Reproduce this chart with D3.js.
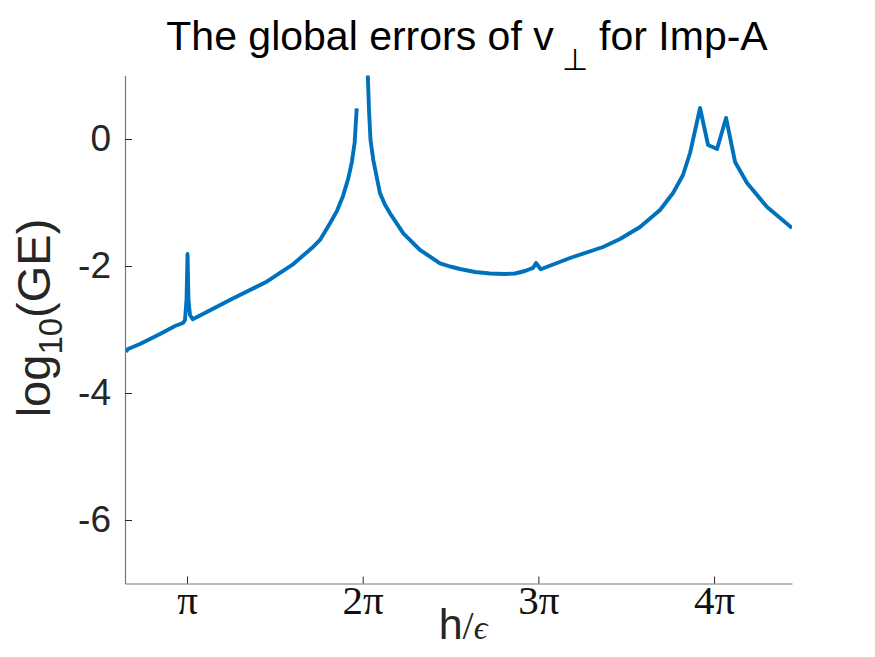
<!DOCTYPE html>
<html><head><meta charset="utf-8">
<script src="https://cdn.jsdelivr.net/npm/d3@7"></script>
<style>body{margin:0;background:#fff}</style>
</head><body><svg id="c" width="875" height="657"></svg>
<script>
// h/epsilon values (null log value marks a gap in the line)
const hOverEps = [2.051,2.086,2.301,2.659,2.927,3.070,3.106,3.133,3.151,3.168,3.195,3.244,3.970,4.567,5.043,5.400,5.520,5.699,5.819,5.930,6.026,6.090,6.140,6.176,
  6.27,
  6.373,6.396,6.423,6.473,6.593,6.680,6.772,7.010,7.308,7.666,7.845,8.024,8.292,8.560,8.828,9.007,9.186,9.329,9.383,9.467,9.991,10.581,10.885,11.243,11.600,11.833,12.011,12.137,12.316,12.459,12.620,12.781,12.942,13.156,13.514,13.961];
const logGE = [-3.354,-3.307,-3.228,-3.071,-2.945,-2.898,-2.850,-2.535,-1.811,-2.535,-2.772,-2.839,-2.509,-2.247,-1.969,-1.696,-1.590,-1.328,-1.140,-0.900,-0.620,-0.360,-0.050,0.483,
  null,
  1.05,0.457,-0.016,-0.331,-0.855,-1.030,-1.170,-1.485,-1.748,-1.957,-2.008,-2.047,-2.094,-2.118,-2.126,-2.118,-2.079,-2.030,-1.953,-2.052,-1.874,-1.701,-1.575,-1.386,-1.118,-0.850,-0.567,-0.220,0.488,-0.094,-0.157,0.331,-0.362,-0.693,-1.071,-1.402];
const xTickValues = [Math.PI, 2*Math.PI, 3*Math.PI, 4*Math.PI];
const xTickLabels = ["π","2π","3π","4π"];
const yTickValues = [0,-2,-4,-6];
const yTickLabels = ["0","-2","-4","-6"];
const xDomain = [2.033, 13.96];
const yDomain = [-7, 1];

const svg = d3.select("#c");
const L = 125, R = 792, T = 75.5, B = 583.5;
const x = d3.scaleLinear().domain(xDomain).range([L, R]);
const y = d3.scaleLinear().domain(yDomain).range([B, T]);
const sans = "Liberation Sans, Arial, Helvetica, sans-serif";
const serif = "Liberation Serif, DejaVu Serif, serif";

svg.append("defs").append("clipPath").attr("id","clip")
  .append("rect").attr("x",L).attr("y",T).attr("width",R-L).attr("height",B-T);

const data = hOverEps.map((v,i)=>({x:v,y:logGE[i]}));
const line = d3.line().defined(d=>d.y!==null).x(d=>x(d.x)).y(d=>y(d.y));
svg.append("path").datum(data).attr("clip-path","url(#clip)")
  .attr("d",line).attr("fill","none").attr("stroke","#0072BD")
  .attr("stroke-width",3.9).attr("stroke-linejoin","round").attr("stroke-linecap","butt");

// x axis
const gx = svg.append("g").attr("transform",`translate(0,${B})`)
  .call(d3.axisBottom(x).tickValues(xTickValues).tickFormat((d,i)=>xTickLabels[i]).tickSize(-7).tickSizeOuter(0).tickPadding(1));
gx.select(".domain").attr("stroke","#777").attr("stroke-width",1.2);
gx.selectAll(".tick line").attr("stroke","#262626");
gx.selectAll(".tick text").attr("font-family",serif).attr("font-size",41).attr("fill","#111");

// y axis
const gy = svg.append("g").attr("transform",`translate(${L},0)`)
  .call(d3.axisLeft(y).tickValues(yTickValues).tickFormat((d,i)=>yTickLabels[i]).tickSize(-7).tickSizeOuter(0).tickPadding(14));
gy.select(".domain").attr("stroke","#777").attr("stroke-width",1.2);
gy.selectAll(".tick line").attr("stroke","#262626");
gy.selectAll(".tick text").attr("font-family",sans).attr("font-size",37).attr("fill","#262626");

// title
const title = svg.append("text").attr("x",467).attr("y",50).attr("text-anchor","middle")
  .attr("font-family",sans).attr("font-size",41).attr("fill","#000");
title.append("tspan").text("The global errors of v");
title.append("tspan").attr("dy",20).attr("dx",8).attr("font-size",30).text("⊥");
title.append("tspan").attr("dy",-20).text(" for Imp-A");

// y label
const yl = svg.append("text").attr("transform","translate(50,318) rotate(-90)").attr("text-anchor","middle")
  .attr("font-family",sans).attr("font-size",47).attr("fill","#262626");
yl.append("tspan").text("log");
yl.append("tspan").attr("dy",12).attr("font-size",33).text("10");
yl.append("tspan").attr("dy",-12).text("(GE)");

// x label
const xl = svg.append("text").attr("x",463).attr("y",639).attr("text-anchor","middle")
  .attr("fill","#262626");
xl.append("tspan").attr("font-family",sans).attr("font-size",43).text("h");
xl.append("tspan").attr("font-family",serif).attr("font-size",40).text("/");
xl.append("tspan").attr("font-family",serif).attr("font-style","italic").attr("font-size",34).text("ϵ");
</script></body></html>
